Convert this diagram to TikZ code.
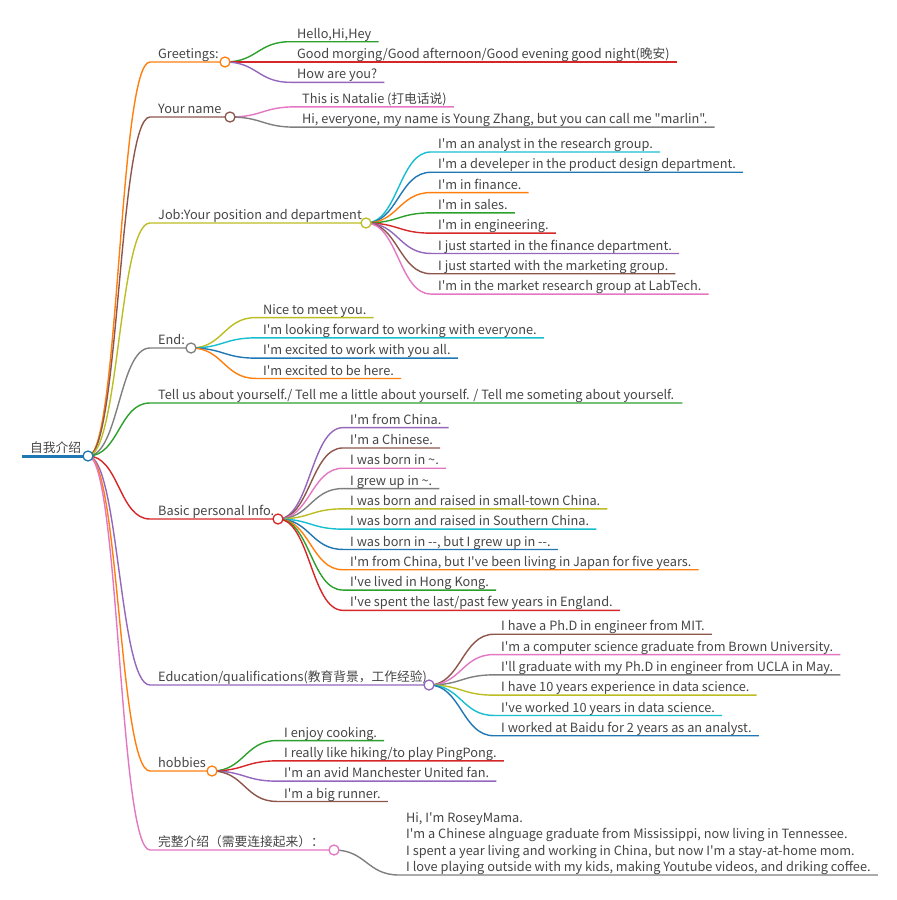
\documentclass[tikz,border=0pt]{standalone}
\usepackage{fontspec}
\newfontfamily\mapfont{Noto Sans CJK SC}
\usetikzlibrary{calc}
\definecolor{mblue}{HTML}{1F77B4}
\definecolor{morange}{HTML}{FF7F0E}
\definecolor{mgreen}{HTML}{2CA02C}
\definecolor{mred}{HTML}{D62728}
\definecolor{mpurple}{HTML}{9467BD}
\definecolor{mbrown}{HTML}{8C564B}
\definecolor{mpink}{HTML}{E377C2}
\definecolor{mgray}{HTML}{7F7F7F}
\definecolor{molive}{HTML}{BCBD22}
\definecolor{mcyan}{HTML}{17BECF}
\definecolor{ink}{HTML}{454545}
\pgfdeclarelayer{links}
\pgfsetlayers{links,main}
\tikzset{
  base/.style={anchor=south west, inner ysep=0.2pt, text depth=3pt, text=ink,
      font=\mapfont\fontsize{12.75}{16.4}\selectfont},
  topic/.style={base, inner xsep=8pt, text height=9pt},
  leaf/.style={base, inner xsep=7pt, text height=9pt},
  knot/.style={circle, draw=#1, fill=white, line width=1.3pt, minimum size=10pt, inner sep=0pt},
  link/.style={line width=1.4pt, draw=#1},
}

\begin{document}
\begin{tikzpicture}[x=1pt, y=-1pt]
  \useasboundingbox (0,0) rectangle (897,900);
  % root
  \node[topic] (root) at (22,456) {自我介绍};
  \node[knot=mblue] (root-k) at (88,456) {};
  \begin{pgfonlayer}{links}
    \draw[line width=3pt, mblue] (root.south west) -- (root-k.center);
  \end{pgfonlayer}

  % first level
  \foreach \nm/\y/\kx/\c/\t in {
      greet/62/225/morange/{Greetings:},
      name/117/230/mbrown/{Your name},
      job/223/366/molive/{Job:Your position and department},
      fin/348/191/mgray/{End:},
      basic/519/278/mred/{Basic personal Info.},
      edu/685/429/mpurple/{Education/qualifications(教育背景，工作经验)},
      hobby/771/212/morange/{hobbies},
      whole/850/334/mpink/{完整介绍（需要连接起来）：}}{
    \node[topic] (\nm) at (150,\y) {\t};
    \node[knot=\c] (\nm-k) at (\kx,\y) {};
    \begin{pgfonlayer}{links}
      \draw[link=\c] (root-k.center) .. controls +(31,0) and +(-31,0) .. (\nm.south west) -- (\nm-k.center);
    \end{pgfonlayer}
  }
  \node[topic] (tell) at (150,403) {Tell us about yourself./ Tell me a little about yourself. / Tell me someting about yourself.};
  \begin{pgfonlayer}{links}
    \draw[link=mgreen] (root-k.center) .. controls +(31,0) and +(-31,0) .. (tell.south west) -- (tell.south east);
  \end{pgfonlayer}

  % greetings
  \foreach \c/\t [count=\i] in {mgreen/{Hello,Hi,Hey},
      mred/{Good morging/Good afternoon/Good evening good night(晚安)},
      mpurple/{How are you?}}{
    \node[leaf] (greet-\i) at (290,{62+(\i-2)*20.3}) {\t};
    \begin{pgfonlayer}{links}
      \draw[link=\c] (greet-k.center) .. controls +(32,0) and +(-32,0) .. (greet-\i.south west) -- (greet-\i.south east);
    \end{pgfonlayer}
  }

  % your name
  \foreach \c/\t [count=\i] in {mpink/{This is Natalie (打电话说)},
      mgray/{Hi, everyone, my name is Young Zhang, but you can call me "marlin".}}{
    \node[leaf] (name-\i) at (295,{117+(\i-1.5)*20.3}) {\t};
    \begin{pgfonlayer}{links}
      \draw[link=\c] (name-k.center) .. controls +(32,0) and +(-32,0) .. (name-\i.south west) -- (name-\i.south east);
    \end{pgfonlayer}
  }

  % job
  \foreach \c/\t [count=\i] in {mcyan/{I'm an analyst in the research group.},
      mblue/{I'm a develeper in the product design department.},
      morange/{I'm in finance.},
      mgreen/{I'm in sales.},
      mred/{I'm in engineering.},
      mpurple/{I just started in the finance department.},
      mbrown/{I just started with the marketing group.},
      mpink/{I'm in the market research group at LabTech.}}{
    \node[leaf] (job-\i) at (431,{223+(\i-4.5)*20.3}) {\t};
    \begin{pgfonlayer}{links}
      \draw[link=\c] (job-k.center) .. controls +(32,0) and +(-32,0) .. (job-\i.south west) -- (job-\i.south east);
    \end{pgfonlayer}
  }

  % end
  \foreach \c/\t [count=\i] in {molive/{Nice to meet you.},
      mcyan/{I'm looking forward to working with everyone.},
      mblue/{I'm excited to work with you all.},
      morange/{I'm excited to be here.}}{
    \node[leaf] (fin-\i) at (256,{348+(\i-2.5)*20.3}) {\t};
    \begin{pgfonlayer}{links}
      \draw[link=\c] (fin-k.center) .. controls +(32,0) and +(-32,0) .. (fin-\i.south west) -- (fin-\i.south east);
    \end{pgfonlayer}
  }

  % basic personal info
  \foreach \c/\t [count=\i] in {mpurple/{I'm from China.},
      mbrown/{I'm a Chinese.},
      mpink/{I was born in \textasciitilde.},
      mgray/{I grew up in \textasciitilde.},
      molive/{I was born and raised in small-town China.},
      mcyan/{I was born and raised in Southern China.},
      mblue/{I was born in --, but I grew up in --.},
      morange/{I'm from China, but I've been living in Japan for five years.},
      mgreen/{I've lived in Hong Kong.},
      mred/{I've spent the last/past few years in England.}}{
    \node[leaf] (basic-\i) at (343,{519+(\i-5.5)*20.3}) {\t};
    \begin{pgfonlayer}{links}
      \draw[link=\c] (basic-k.center) .. controls +(32,0) and +(-32,0) .. (basic-\i.south west) -- (basic-\i.south east);
    \end{pgfonlayer}
  }

  % education
  \foreach \c/\t [count=\i] in {mbrown/{I have a Ph.D in engineer from MIT.},
      mpink/{I'm a computer science graduate from Brown University.},
      mgray/{I'll graduate with my Ph.D in engineer from UCLA in May.},
      molive/{I have 10 years experience in data science.},
      mcyan/{I've worked 10 years in data science.},
      mblue/{I worked at Baidu for 2 years as an analyst.}}{
    \node[leaf] (edu-\i) at (494,{685+(\i-3.5)*20.3}) {\t};
    \begin{pgfonlayer}{links}
      \draw[link=\c] (edu-k.center) .. controls +(32,0) and +(-32,0) .. (edu-\i.south west) -- (edu-\i.south east);
    \end{pgfonlayer}
  }

  % hobbies
  \foreach \c/\t [count=\i] in {mgreen/{I enjoy cooking.},
      mred/{I really like hiking/to play PingPong.},
      mpurple/{I'm an avid Manchester United fan.},
      mbrown/{I'm a big runner.}}{
    \node[leaf] (hobby-\i) at (277,{771+(\i-2.5)*20.3}) {\t};
    \begin{pgfonlayer}{links}
      \draw[link=\c] (hobby-k.center) .. controls +(32,0) and +(-32,0) .. (hobby-\i.south west) -- (hobby-\i.south east);
    \end{pgfonlayer}
  }

  % whole introduction
  \node[base, inner xsep=7pt, align=left] (whole-1) at (399,875) {Hi, I'm RoseyMama.\\
    I'm a Chinese alnguage graduate from Mississippi, now living in Tennessee.\\
    I spent a year living and working in China, but now I'm a stay-at-home mom.\\
    I love playing outside with my kids, making Youtube videos, and driking coffee.};
  \begin{pgfonlayer}{links}
    \draw[link=mgray] (whole-k.center) .. controls +(32,0) and +(-32,0) .. (whole-1.south west) -- (whole-1.south east);
  \end{pgfonlayer}
\end{tikzpicture}
\end{document}
